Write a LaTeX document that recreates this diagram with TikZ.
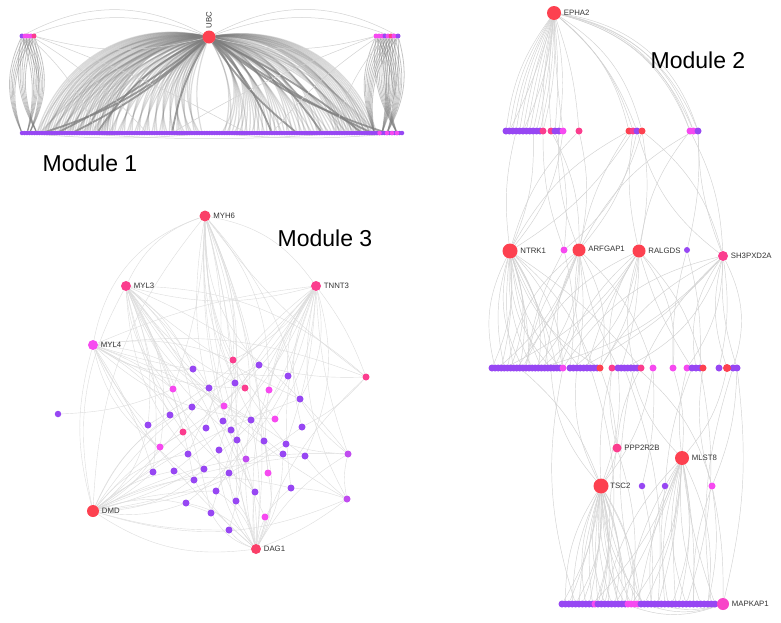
\documentclass[tikz,border=0pt]{standalone}
\usepackage{fontspec}
\setmainfont{Liberation Sans}
\pgfdeclarelayer{paper}
\pgfdeclarelayer{edges}
\pgfsetlayers{paper,edges,main}
\definecolor{hubred}{HTML}{FD4150}
\definecolor{rpink}{HTML}{FA3F68}
\definecolor{pinkc}{HTML}{FB3D8E}
\definecolor{mapc}{HTML}{F845C8}
\definecolor{magc}{HTML}{F64AF0}
\definecolor{vmag}{HTML}{C04CF0}
\definecolor{purc}{HTML}{9747F3}
\definecolor{fang}{HTML}{7E7E7E}
\definecolor{edgel}{HTML}{D2D2D2}
\definecolor{edge3}{HTML}{DDDDDD}
\definecolor{lblc}{HTML}{333333}
\tikzset{
  dot/.style={circle, inner sep=0pt, minimum size=#1, draw=none},
  dot/.default=7pt,
  lbl/.style={font=\fontsize{7.8}{9}\selectfont, text=lblc, inner sep=0.5pt, anchor=west},
  title/.style={font=\fontsize{23}{27}\selectfont, text=black, inner sep=0pt},
  fan/.style={draw=fang, line width=1.2pt, opacity=0.28},
  fanD/.style={draw=fang, line width=1.8pt, opacity=0.75},
  fanL/.style={draw=fang, line width=0.8pt, opacity=0.45},
  lt1/.style={draw=edgel, line width=0.5pt},
  lt/.style={draw=edgel, line width=0.45pt},
  lt3/.style={draw=edge3, line width=0.4pt},
}
\begin{document}
\begin{tikzpicture}[x=1pt,y=1pt]
\begin{pgfonlayer}{paper}
\fill[white] (0,0) rectangle (781,-622);
\end{pgfonlayer}
\useasboundingbox (0,0) rectangle (781,-622);

% ================= MODULE 1 =================
\node[dot=13pt, fill=hubred] (ubc) at (209,-37) {};
\node[lbl, rotate=90] (ubcl) at ([yshift=1.5pt]ubc.north) {UBC};
\foreach \x/\c [count=\i] in {22/purc,25/magc,28/magc,31/magc,34/pinkc}
  \node[dot=5pt, fill=\c] (tl\i) at (\x,-36) {};
\foreach \x/\c [count=\i] in {376/magc,379/magc,382/magc,385/purc,388/magc,391/pinkc,394/magc,398/purc}
  \node[dot=5pt, fill=\c] (tr\i) at (\x,-36) {};
\foreach \i in {0,...,152} {
  \pgfmathsetmacro\xx{22+2.5*\i}
  \node[dot=4.5pt, fill=purc] (b\i) at (\xx,-133) {};
}
\foreach \i in {143,146,148,150}
  \node[dot=4.5pt, fill=magc] (bm\i) at (b\i) {};
\node[title] (t1) at (90,-163) {Module 1};

\begin{pgfonlayer}{edges}
\foreach \i in {6,...,36} \draw[fan] (ubc) to[bend right=42] (b\i);
\foreach \i in {6,...,72} {\pgfmathsetmacro\bb{16+mod(\i*7,24)} \draw[fan] (ubc) to[bend right=\bb] (b\i);}
\foreach \i in {80,...,142} {\pgfmathsetmacro\bb{14+mod(\i*11,26)} \draw[fan] (ubc) to[bend left=\bb] (b\i);}
\foreach \i in {126,...,142} \draw[fan] (ubc) to[bend left=40] (b\i);
\foreach \i/\b in {8/-12,20/-8,30/15,60/10,100/-10,120/-15,146/10,110/8,136/-6,14/-5,140/5}
  \draw[fanD] (ubc) to[bend right=\b] (b\i);
\foreach \i in {1,...,5} \foreach \j/\b in {0/25,3/-25,6/20,2/-15}
  \draw[fanL] (tl\i) to[bend right=\b] (b\j);
\foreach \i in {1,...,8} \foreach \j/\b in {141/22,146/-22,150/18,144/-12}
  \draw[fanL] (tr\i) to[bend right=\b] (b\j);
\foreach \s/\t/\b in {ubc/tl1/28, ubc/tl3/20, tl5/ubc/14, tr8/ubc/28, tr6/ubc/20, ubc/tr1/14,
   tl4/b50/-8, tl5/b90/-4, tl3/b30/-12, tr2/b100/8, tr1/b60/5, tr4/b125/12,
   b0/b76/5, b76/b152/5, b20/b130/4}
  \draw[lt1] (\s) to[bend right=\b] (\t);
\end{pgfonlayer}

% ================= MODULE 2 =================
\node[dot=14pt, fill=hubred] (E) at (554,-13) {};
\node[lbl] (lE) at ([xshift=2pt]E.east) {EPHA2};
\node[title] (t2) at (698,-60) {Module 2};
\foreach \x/\c [count=\i] in {506/purc,509.4/purc,512.8/purc,516.2/purc,519.6/purc,523/purc,526.4/purc,529.8/purc,533.2/purc,536.6/purc,540/purc,543/pinkc,551/pinkc,555/purc,559/purc,563/magc,579/pinkc,629/hubred,633/pinkc,637/purc,642/hubred,690/magc,693.5/magc,698/purc}
  \node[dot, fill=\c] (A\i) at (\x,-131) {};

\node[dot=15pt, fill=hubred] (N) at (510,-251) {};
\node[lbl] (lN) at ([xshift=2pt]N.east) {NTRK1};
\node[dot=7pt, fill=magc] (q2) at (564,-250) {};
\node[dot=13pt, fill=hubred] (AR) at (579,-250) {};
\node[lbl] (lAR) at ([xshift=2pt,yshift=1pt]AR.east) {ARFGAP1};
\node[dot=13pt, fill=hubred] (RA) at (639,-251) {};
\node[lbl] (lRA) at ([xshift=2pt]RA.east) {RALGDS};
\node[dot=6pt, fill=purc] (q5) at (687,-250) {};
\node[dot=10pt, fill=pinkc] (SH) at (723,-256) {};
\node[lbl] (lSH) at ([xshift=2pt]SH.east) {SH3PXD2A};

\foreach \k in {1,...,23} {\pgfmathsetmacro\xx{492+3.09*(\k-1)} \node[dot, fill=purc] (B\k) at (\xx,-368) {};}
\node[dot, fill=magc] (B24) at (563,-368) {};
\foreach \k in {25,...,33} {\pgfmathsetmacro\xx{570+3.4*(\k-25)} \node[dot, fill=purc] (B\k) at (\xx,-368) {};}
\node[dot, fill=hubred] (B34) at (600,-368) {};
\node[dot, fill=pinkc] (B35) at (612,-368) {};
\foreach \k in {36,...,42} {\pgfmathsetmacro\xx{618+3.2*(\k-36)} \node[dot, fill=purc] (B\k) at (\xx,-368) {};}
\node[dot, fill=pinkc] (B43) at (641,-368) {};
\node[dot, fill=magc] (B44) at (653,-368) {};
\node[dot, fill=magc] (B45) at (673,-368) {};
\node[dot, fill=magc] (B46) at (687,-368) {};
\node[dot, fill=purc] (B47) at (692,-368) {};
\node[dot, fill=purc] (B48) at (696,-368) {};
\node[dot, fill=purc] (B49) at (700,-368) {};
\node[dot, fill=hubred] (B50) at (703,-368) {};
\node[dot, fill=purc] (B51) at (719,-368) {};
\node[dot, fill=purc] (B53) at (733,-368) {};
\node[dot, fill=purc] (B54) at (737,-368) {};
\node[dot=8pt, fill=hubred] (B52) at (727,-368) {};

\node[dot=9pt, fill=pinkc] (PP) at (617,-448) {};
\node[lbl] (lPP) at ([xshift=2pt]PP.east) {PPP2R2B};
\node[dot=14pt, fill=hubred] (MS) at (682,-458) {};
\node[lbl] (lMS) at ([xshift=2pt]MS.east) {MLST8};
\node[dot=15pt, fill=hubred] (TS) at (601,-486) {};
\node[lbl] (lTS) at ([xshift=1pt]TS.east) {TSC2};
\node[dot=6.5pt, fill=purc] (p1) at (642,-486) {};
\node[dot=6.5pt, fill=purc] (p2) at (665,-486) {};
\node[dot=7pt, fill=magc] (mg) at (712,-486) {};

\foreach \k in {1,...,10} {\pgfmathsetmacro\xx{562+3.4*(\k-1)} \node[dot, fill=purc] (C\k) at (\xx,-604) {};}
\node[dot, fill=magc] (C11) at (595,-604) {};
\foreach \k in {12,...,20} {\pgfmathsetmacro\xx{598+3.4*(\k-12)} \node[dot, fill=purc] (C\k) at (\xx,-604) {};}
\foreach \k in {21,...,24} {\pgfmathsetmacro\xx{628+3.3*(\k-21)} \node[dot, fill=magc] (C\k) at (\xx,-604) {};}
\foreach \k in {25,...,33} {\pgfmathsetmacro\xx{641+3.4*(\k-25)} \node[dot, fill=purc] (C\k) at (\xx,-604) {};}
\foreach \k in {34,...,46} {\pgfmathsetmacro\xx{672+3.58*(\k-34)} \node[dot, fill=purc] (C\k) at (\xx,-604) {};}
\node[dot=12pt, fill=mapc] (MAP) at (723,-604) {};
\node[lbl] (lMAP) at ([xshift=2pt]MAP.east) {MAPKAP1};

\begin{pgfonlayer}{edges}
\foreach \t/\b in {A1/-14,A2/-12,A3/-10,A4/-9,A5/-7,A6/-5,A7/-3,A8/-1,A9/2,A10/4,A11/6,A12/8,A2/5,A6/9,A12/-6,A13/-5,A14/5,A15/9,A16/-3,A17/7,A18/18,A19/16,A20/14,A21/21,A22/27,A22/29,A23/30,A24/32,A24/28,A23/26}
  \draw[lt] (E) to[bend left=\b] (\t);
\foreach \s/\t/\b in {A4/N/-10, A9/N/12, A12/q2/-10, A14/q2/10, A15/AR/-12, A17/N/-14, A17/AR/12, A18/N/-16, A19/N/12, A18/AR/-10, A20/AR/14, A19/RA/-10, A21/RA/10, A20/SH/-18, A21/q2/16, A22/RA/-14, A22/SH/12, A23/AR/-16, A24/SH/-10, A21/SH/18, A13/AR/14, A16/N/16, A24/q5/8}
  \draw[lt] (\s) to[bend left=\b] (\t);
\foreach \j [count=\k] in {1,2,4,5,7,8,10,11,13,14,16,17,19,20,22,23,24,28,32,34,43}
  {\pgfmathsetmacro\bb{(8+mod(\k,3)*6)*(2*mod(\k,2)-1)} \draw[lt] (N) to[bend left=\bb] (B\j);}
\foreach \j [count=\k] in {3,6,9,12,15,18,21,24,27,31,34,36,44}
  {\pgfmathsetmacro\bb{(8+mod(\k,3)*6)*(2*mod(\k,2)-1)} \draw[lt] (AR) to[bend left=\bb] (B\j);}
\foreach \j [count=\k] in {5,11,17,23,26,30,34,35,37,41,45,47,50}
  {\pgfmathsetmacro\bb{(8+mod(\k,3)*6)*(2*mod(\k,2)-1)} \draw[lt] (RA) to[bend left=\bb] (B\j);}
\foreach \j [count=\k] in {16,24,28,34,38,43,46,48,51,52,53,54}
  {\pgfmathsetmacro\bb{(10+mod(\k,3)*6)*(2*mod(\k,2)-1)} \draw[lt] (SH) to[bend left=\bb] (B\j);}
\foreach \s/\t/\b in {q2/B12/-10, q2/B25/10, q5/B45/-8, q5/B49/8,
   B34/PP/8, B35/PP/-10, B35/TS/-8, B36/TS/12, B40/MS/-14, B43/PP/-12, B44/TS/14, B45/MS/10, B46/MS/-10, B50/mg/-12, B52/MS/14, B54/mg/10, B27/TS/-16, B20/TS/-18, B24/C5/-14, B38/C30/12, B53/C45/-12, B54/MAP/10, B44/p1/8, B47/p2/-8, B31/C12/16, B41/C25/-14, B49/C38/14, B10/TS/14, B42/mg/16,
   PP/TS/8, PP/C18/-10, PP/C22/12, mg/C40/-10, mg/C44/10, mg/MAP/6, p1/C28/8, p2/C33/-8,
   C20/MAP/-20, C30/MAP/-15, C36/MAP/-10, C42/MAP/-8, C26/MAP/-18}
  \draw[lt] (\s) to[bend left=\b] (\t);
\foreach \j [count=\k] in {1,2,3,4,5,6,7,8,9,10,11,12,13,14,15,16,17,18,19,20,21,22,23,24,25,26}
  {\pgfmathsetmacro\bb{(6+mod(\k,3)*5)*(2*mod(\k,2)-1)} \draw[lt] (TS) to[bend left=\bb] (C\j);}
\foreach \j [count=\k] in {10,14,17,20,22,24,26,28,30,32,34,35,36,38,40,42,44,46}
  {\pgfmathsetmacro\bb{(6+mod(\k,3)*5)*(2*mod(\k,2)-1)} \draw[lt] (MS) to[bend left=\bb] (C\j);}
\end{pgfonlayer}

% ================= MODULE 3 =================
\node[title] (t3) at (325,-238) {Module 3};
\node[dot=11pt, fill=rpink] (myh) at (205,-216) {};
\node[lbl] (lmyh) at ([xshift=2pt]myh.east) {MYH6};
\node[dot=10pt, fill=pinkc] (myl3) at (126,-286) {};
\node[lbl] (lmyl3) at ([xshift=2pt]myl3.east) {MYL3};
\node[dot=10pt, fill=pinkc] (tnnt) at (316,-286) {};
\node[lbl] (ltnnt) at ([xshift=2pt]tnnt.east) {TNNT3};
\node[dot=10pt, fill=magc] (myl4) at (93,-345) {};
\node[lbl] (lmyl4) at ([xshift=2pt]myl4.east) {MYL4};
\node[dot=12pt, fill=hubred] (dmd) at (93,-511) {};
\node[lbl] (ldmd) at ([xshift=2pt]dmd.east) {DMD};
\node[dot=10pt, fill=rpink] (dag) at (256,-549) {};
\node[lbl] (ldag) at ([xshift=2pt]dag.east) {DAG1};
\node[dot=6.5pt, fill=purc] (iso) at (58,-414) {};
\foreach \x/\y/\c [count=\i] in {233/360/pinkc,193/369/purc,259/365/purc,288/376/purc,366/377/pinkc,173/389/magc,209/388/purc,235/383/purc,245/388/pinkc,269/390/magc,300/399/purc,192/407/purc,224/406/magc,170/415/purc,148/425/purc,206/428/purc,223/421/purc,251/420/purc,275/419/magc,183/432/pinkc,231/430/purc,302/427/purc,237/440/purc,264/441/purc,286/444/purc,160/447/magc,188/454/purc,219/450/purc,283/454/purc,305/456/purc,348/454/vmag,246/459/vmag,153/472/purc,174/471/purc,204/469/purc,229/473/purc,268/473/magc,194/480/purc,216/491/purc,255/492/purc,291/488/purc,347/499/vmag,186/503/purc,236/501/purc,211/513/purc,265/517/magc,229/530/purc}
  \node[dot=7pt, fill=\c] (m\i) at (\x,-\y) {};

\begin{pgfonlayer}{edges}
\foreach \j [count=\k] in {1,3,6,8,10,13,16,19,21,24,28,32,36,40,44,46,47,5,11,25,37}
  {\pgfmathsetmacro\bb{(8+mod(\k,3)*6)*(2*mod(\k,2)-1)} \draw[lt3] (myh) to[bend left=\bb] (m\j);}
\foreach \j [count=\k] in {2,6,7,9,12,14,15,18,20,23,26,29,33,35,38,42,5,11,31,40,45}
  {\pgfmathsetmacro\bb{(8+mod(\k,3)*6)*(2*mod(\k,2)-1)} \draw[lt3] (myl3) to[bend left=\bb] (m\j);}
\foreach \j [count=\k] in {1,4,5,10,11,17,19,22,25,27,30,31,34,37,39,41,43,45,26,42,15}
  {\pgfmathsetmacro\bb{(8+mod(\k,3)*6)*(2*mod(\k,2)-1)} \draw[lt3] (tnnt) to[bend left=\bb] (m\j);}
\foreach \j [count=\k] in {1,2,6,9,13,15,20,26,33,38,44,4,5,19,30}
  {\pgfmathsetmacro\bb{(8+mod(\k,3)*6)*(2*mod(\k,2)-1)} \draw[lt3] (myl4) to[bend left=\bb] (m\j);}
\foreach \j [count=\k] in {14,15,20,26,27,33,34,35,39,43,45,47,31,42,30,22,12,7,3,4,11,25,41}
  {\pgfmathsetmacro\bb{(8+mod(\k,3)*6)*(2*mod(\k,2)-1)} \draw[lt3] (dmd) to[bend left=\bb] (m\j);}
\foreach \j [count=\k] in {36,39,40,44,45,46,47,37,32,29,41,42,31,24,23,21,28,18,5,43,38}
  {\pgfmathsetmacro\bb{(8+mod(\k,3)*6)*(2*mod(\k,2)-1)} \draw[lt3] (dag) to[bend left=\bb] (m\j);}
\foreach \s/\t/\b in {myh/myl3/-22, myh/tnnt/22, myl3/tnnt/-15, myh/myl4/-30, myl4/dmd/-15, dmd/dag/-20, myl3/dmd/-20, tnnt/dag/-18, myh/dag/15, myh/dmd/-18, tnnt/dmd/10, myl3/dag/12, myl4/dag/-10, myl4/tnnt/8,
   iso/m6/-10, m5/m3/8, m11/m31/-10, m31/m25/6, m42/m41/-8, m5/m22/10, m42/m30/6, m31/m42/-12}
  \draw[lt3] (\s) to[bend left=\b] (\t);
\end{pgfonlayer}
\end{tikzpicture}
\end{document}
